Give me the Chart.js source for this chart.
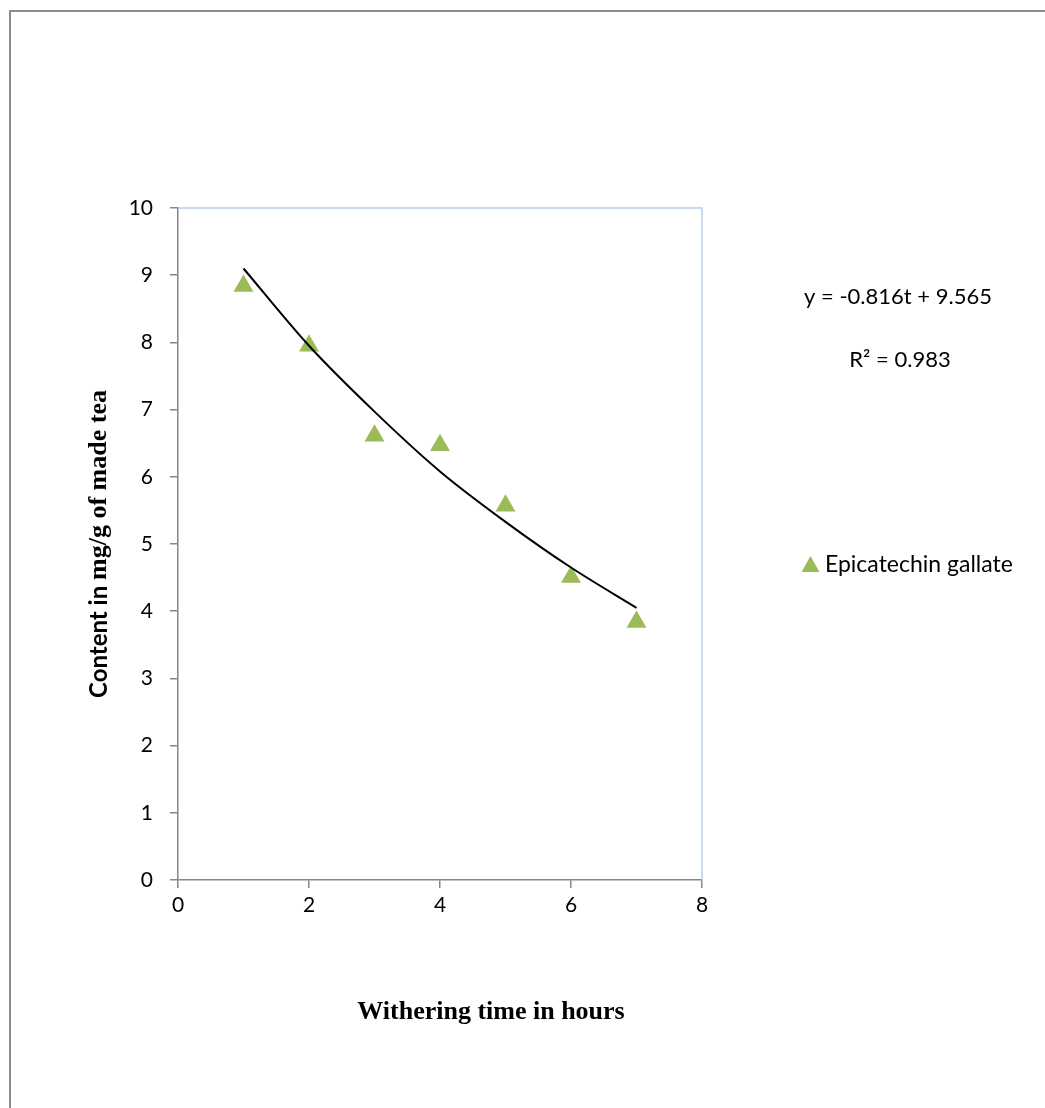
<!DOCTYPE html>
<html>
<head>
<meta charset="utf-8">
<script src="https://cdn.jsdelivr.net/npm/chart.js@4.4.1/dist/chart.umd.min.js"></script>
<style>
  html, body { margin: 0; padding: 0; background: #fff; }
  #wrap { width: 1045px; height: 1108px; position: relative; }
</style>
</head>
<body>
<div id="wrap"><canvas id="chart" width="1045" height="1108"></canvas></div>
<script>
/* ─────────────────────────────────────────────
   Data
───────────────────────────────────────────── */
const hours = [1, 2, 3, 4, 5, 6, 7];
const ecgContent = [8.84, 7.95, 6.61, 6.47, 5.57, 4.51, 3.84];
const trendValues = [9.1, 7.95, 6.97, 6.08, 5.33, 4.65, 4.05];
const xTicks = [0, 2, 4, 6, 8];
const yTicks = [0, 1, 2, 3, 4, 5, 6, 7, 8, 9, 10];

const seriesLabel = 'Epicatechin gallate';
const xTitle = 'Withering time in hours';
const yTitleSans = 'Content in ';
const yTitleSerif = 'mg/g of made tea';
const equationText = 'y = -0.816t + 9.565';
const r2Text = 'R² = 0.983';

const tickFont = 'Lato, "Open Sans", sans-serif';
const titleFont = '"Liberation Serif", "DejaVu Serif", serif';
const colors = {
  marker: '#9BBB59',
  axis: '#868686',
  plotEdge: '#B9CDE5',
  frame: '#8C8C8C',
  text: '#000000',
};

/* ─────────────────────────────────────────────
   Decorations: frame, plot edge, titles, legend, equation
───────────────────────────────────────────── */
const decorations = {
  id: 'decorations',
  beforeDatasetsDraw(chart) {
    const { ctx, chartArea: a } = chart;
    ctx.save();
    ctx.strokeStyle = colors.plotEdge;
    ctx.lineWidth = 1.5;
    ctx.beginPath();
    ctx.moveTo(a.left, a.top);
    ctx.lineTo(a.right, a.top);
    ctx.lineTo(a.right, a.bottom);
    ctx.stroke();
    ctx.restore();
  },
  afterDraw(chart) {
    const { ctx, chartArea: a } = chart;
    ctx.save();

    // outer frame
    ctx.strokeStyle = colors.frame;
    ctx.lineWidth = 2;
    ctx.beginPath();
    ctx.moveTo(10, 1108);
    ctx.lineTo(10, 11);
    ctx.lineTo(1045, 11);
    ctx.stroke();

    ctx.fillStyle = colors.text;
    ctx.textAlign = 'center';
    ctx.textBaseline = 'middle';

    // x axis title
    ctx.font = 'bold 26px ' + titleFont;
    ctx.fillText(xTitle, 491, 1012);

    // y axis title: sans part then serif part, rotated
    ctx.save();
    ctx.translate(99, (a.top + a.bottom) / 2);
    ctx.rotate(-Math.PI / 2);
    const sansFont = 'bold 24px ' + tickFont;
    const serifFont = 'bold 26px ' + titleFont;
    ctx.font = sansFont;
    const w1 = ctx.measureText(yTitleSans).width;
    ctx.font = serifFont;
    const w2 = ctx.measureText(yTitleSerif).width;
    const start = -(w1 + w2) / 2;
    ctx.textAlign = 'left';
    ctx.font = sansFont;
    ctx.fillText(yTitleSans, start, 0);
    ctx.font = serifFont;
    ctx.fillText(yTitleSerif, start + w1, 0);
    ctx.restore();

    // trendline label
    ctx.font = '22px ' + tickFont;
    ctx.fillText(equationText, 898, 297);
    ctx.fillText(r2Text, 900, 360);

    // legend
    ctx.fillStyle = colors.marker;
    ctx.beginPath();
    ctx.moveTo(810.5, 556);
    ctx.lineTo(819.5, 572);
    ctx.lineTo(801.5, 572);
    ctx.closePath();
    ctx.fill();
    ctx.fillStyle = colors.text;
    ctx.textAlign = 'left';
    ctx.font = '23px ' + tickFont;
    ctx.fillText(seriesLabel, 825, 565);

    ctx.restore();
  }
};

/* ─────────────────────────────────────────────
   Chart
───────────────────────────────────────────── */
new Chart(document.getElementById('chart'), {
  type: 'scatter',
  data: {
    datasets: [
      {
        label: seriesLabel,
        data: hours.map((h, i) => ({ x: h, y: ecgContent[i] })),
        pointStyle: 'triangle',
        pointRadius: 11.5,
        pointHoverRadius: 11.5,
        pointBackgroundColor: colors.marker,
        pointBorderColor: colors.marker,
        pointBorderWidth: 0,
        showLine: false,
        order: 2,
      },
      {
        label: 'trend',
        data: hours.map((h, i) => ({ x: h, y: trendValues[i] })),
        showLine: true,
        borderColor: '#000',
        borderWidth: 2,
        pointRadius: 0,
        cubicInterpolationMode: 'monotone',
        order: 1,
      }
    ]
  },
  options: {
    responsive: false,
    animation: false,
    events: [],
    layout: { padding: { left: 118, right: 343, top: 208, bottom: 168 } },
    plugins: {
      legend: { display: false },
      tooltip: { enabled: false },
    },
    scales: {
      x: {
        type: 'linear',
        min: 0,
        max: 8,
        afterFit: (s) => { s.height = 60; },
        afterBuildTicks: (s) => { s.ticks = xTicks.map(v => ({ value: v })); },
        grid: { display: true, drawOnChartArea: false, drawTicks: true, tickLength: 8, color: colors.axis, lineWidth: 1.5 },
        border: { display: true, color: colors.axis, width: 1.5 },
        ticks: { color: colors.text, font: { family: tickFont, size: 21 }, padding: 5 },
      },
      y: {
        min: 0,
        max: 10,
        afterFit: (s) => { s.width = 60; },
        afterBuildTicks: (s) => { s.ticks = yTicks.map(v => ({ value: v })); },
        grid: { display: true, drawOnChartArea: false, drawTicks: true, tickLength: 8, color: colors.axis, lineWidth: 1.5 },
        border: { display: true, color: colors.axis, width: 1.5 },
        ticks: { color: colors.text, font: { family: tickFont, size: 21 }, padding: 17 },
      }
    }
  },
  plugins: [decorations]
});
</script>
</body>
</html>
